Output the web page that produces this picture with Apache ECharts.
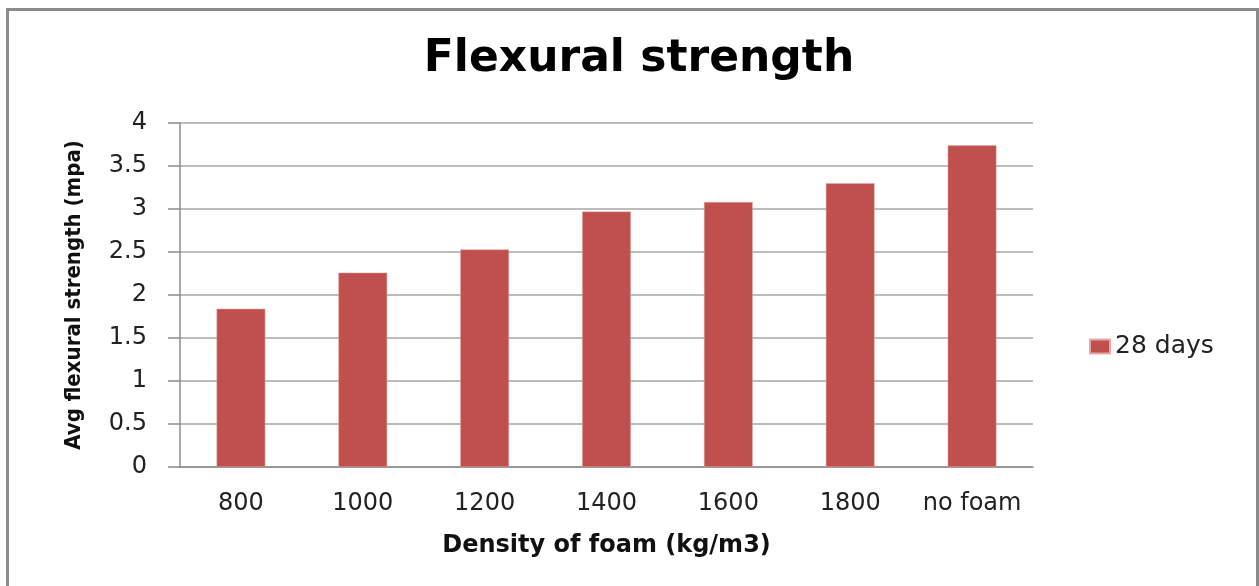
<!DOCTYPE html>
<html><head><meta charset="utf-8">
<script src="https://cdn.jsdelivr.net/npm/echarts@6/dist/echarts.min.js"></script>
<style>
html,body{margin:0;padding:0;background:#fff;overflow:hidden;}
#frame{position:absolute;left:6px;top:8px;width:1253px;height:600px;border:3px solid #8a8a8a;border-bottom:none;box-sizing:border-box;}
#chart{position:absolute;left:0;top:0;width:1259px;height:586px;}
</style></head>
<body>
<div id="frame"></div>
<div id="chart"></div>
<script>
const categories = ['800','1000','1200','1400','1600','1800','no foam'];
const seriesName = '28 days';
const values = [1.84, 2.26, 2.53, 2.97, 3.08, 3.30, 3.74];
const titleText = 'Flexural strength';
const xAxisTitle = 'Density of foam (kg/m3)';
const yAxisTitle = 'Avg flexural strength (mpa)';

const chart = echarts.init(document.getElementById('chart'), null, {renderer:'canvas'});
chart.setOption({
  backgroundColor: 'transparent',
  animation: false,
  title: {
    text: titleText, left: 634, top: 33, textAlign: 'center',
    textStyle: {fontFamily: 'DejaVu Sans', fontWeight: 'bold', fontSize: 44, color: '#000'}
  },
  legend: {
    data: [seriesName], left: 1084, top: 329, orient: 'vertical',
    itemWidth: 20, itemHeight: 14, itemGap: 8,
    icon: 'rect',
    textStyle: {fontFamily: 'DejaVu Sans', fontSize: 25, color: '#222'}
  },
  grid: {left: 180, right: 226, top: 123, bottom: 119, containLabel: false},
  xAxis: {
    type: 'category', data: categories,
    axisLine: {show: true, lineStyle: {color: '#8c8c8c', width: 1.5}},
    axisTick: {show: false},
    axisLabel: {fontFamily: 'DejaVu Sans', fontSize: 24, color: '#222', margin: 25, interval: 0},
    name: xAxisTitle, nameLocation: 'middle', nameGap: 67,
    nameTextStyle: {fontFamily: 'DejaVu Sans', fontWeight: 'bold', fontSize: 24, color: '#111'}
  },
  yAxis: {
    type: 'value', min: 0, max: 4, interval: 0.5,
    axisLine: {show: true, lineStyle: {color: '#8c8c8c', width: 1.5}},
    axisTick: {show: true, length: 12, lineStyle: {color: '#8c8c8c', width: 1.5}},
    splitLine: {lineStyle: {color: '#a6a6a6', width: 1.5}},
    axisLabel: {fontFamily: 'DejaVu Sans', fontSize: 24, color: '#222', margin: 33},
    name: yAxisTitle, nameLocation: 'middle', nameGap: 95, nameRotate: 90,
    nameTextStyle: {fontFamily: "'DejaVu Sans Condensed', 'DejaVu Sans'", fontWeight: 'bold', fontSize: 22, color: '#111'}
  },
  series: [{
    name: seriesName, type: 'bar', data: values, barWidth: '40%',
    itemStyle: {color: '#C0504D', borderColor: '#e6a9a8', borderWidth: 0.5}
  }]
});
</script>
</body></html>
